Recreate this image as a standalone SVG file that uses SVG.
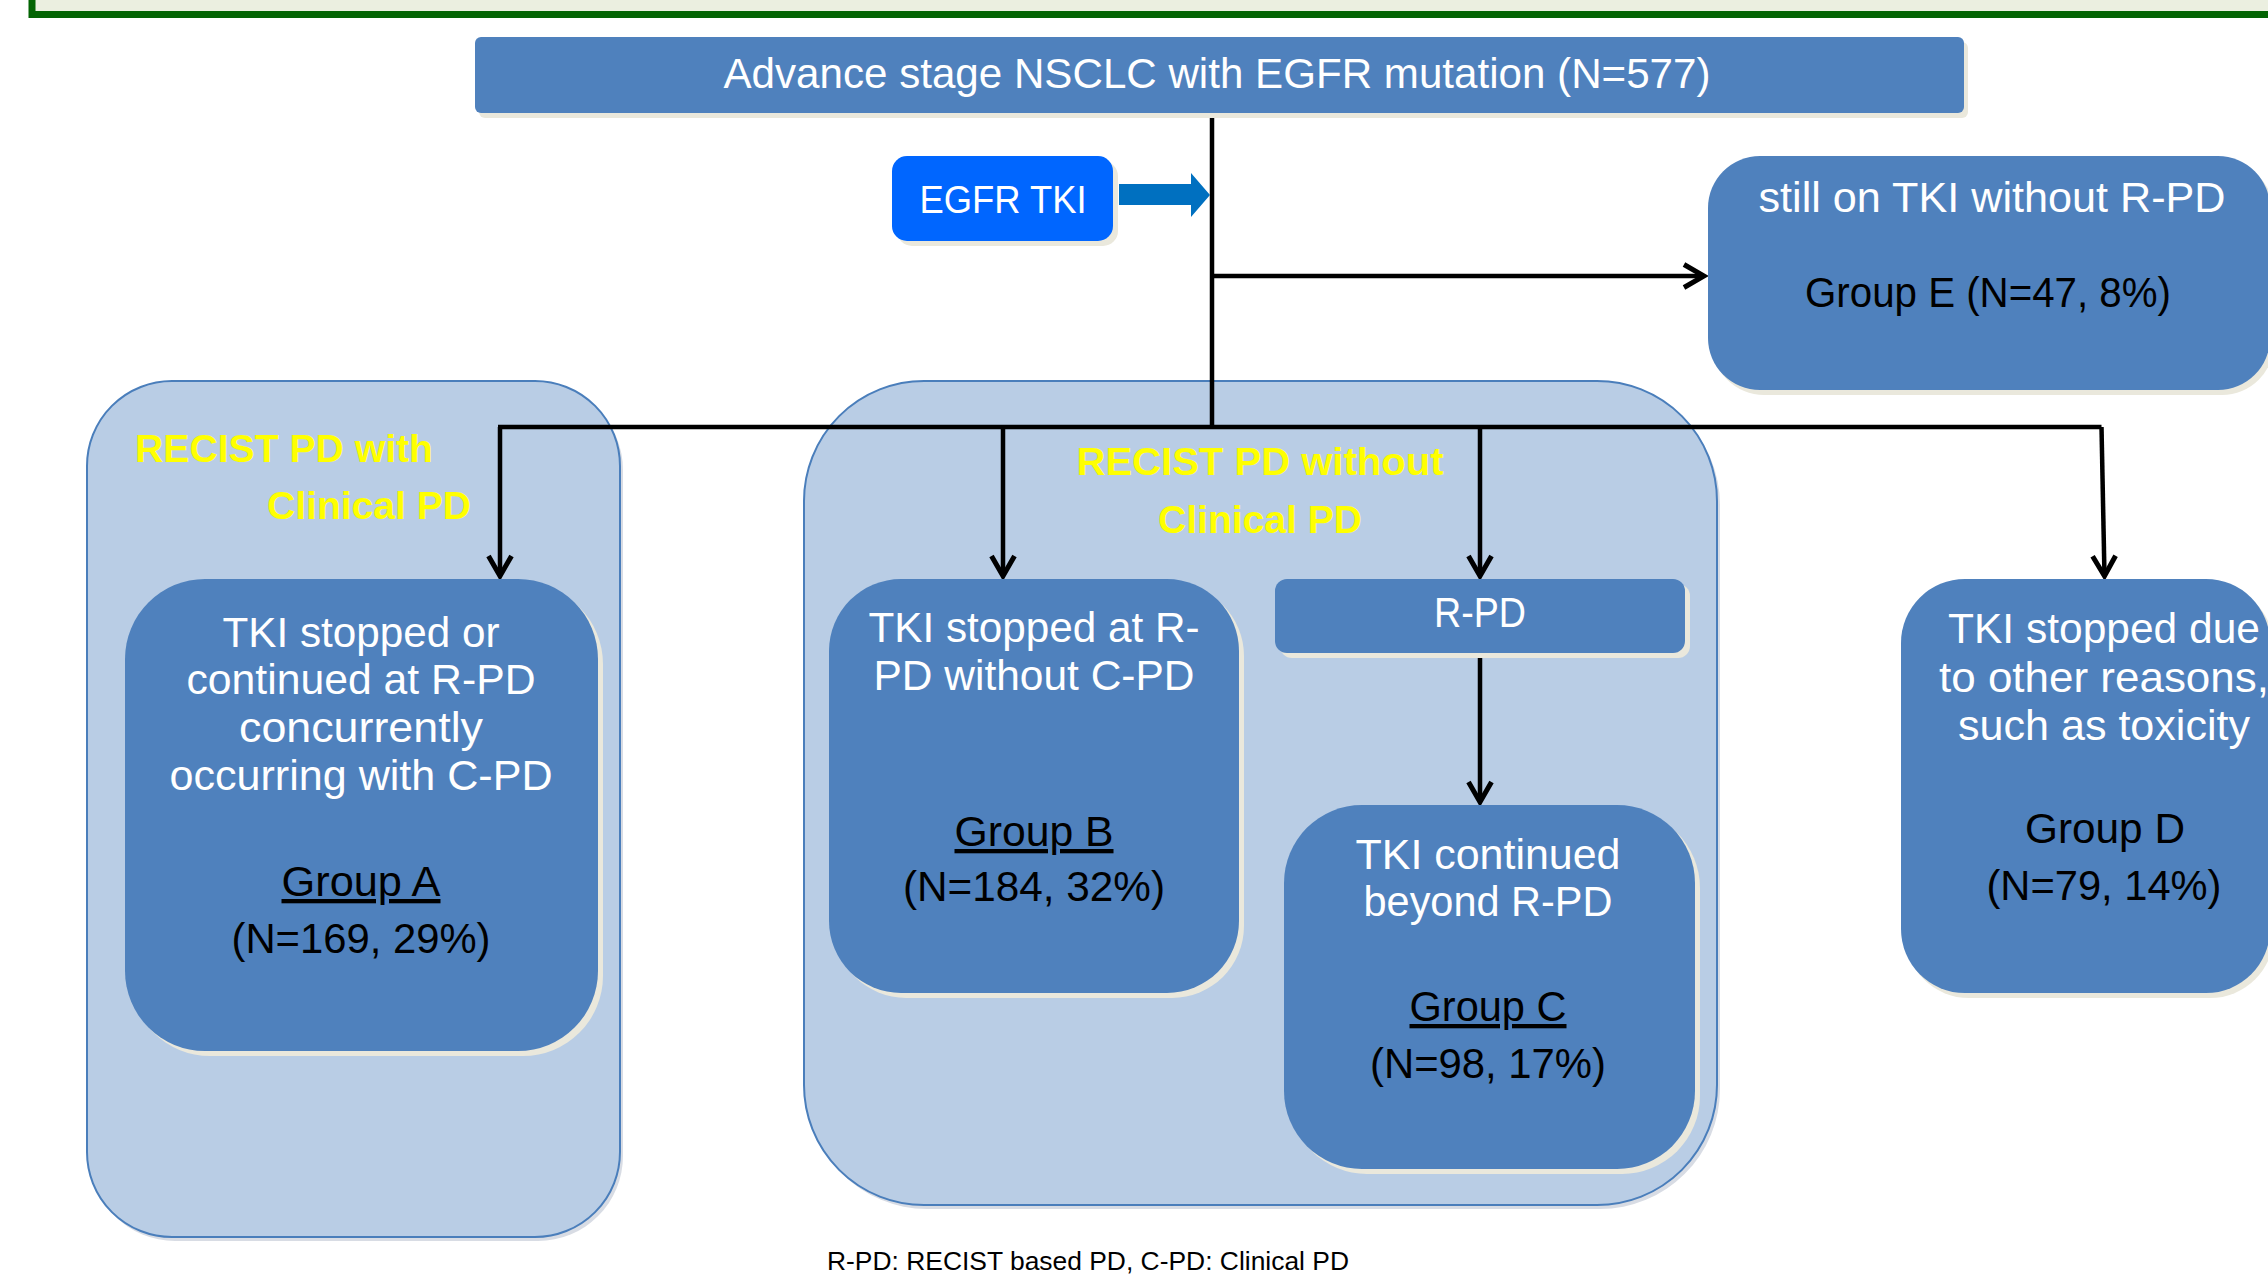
<svg xmlns="http://www.w3.org/2000/svg" width="2268" height="1277" viewBox="0 0 2268 1277">
<style>
.node{fill:#4F81BD}
.sh{fill:#EAE8DC}
.csh{fill:#D8DCE4}
.cont{fill:#B9CDE5;stroke:#4A7EBB;stroke-width:2}
.t{font-family:"Liberation Sans",Arial,sans-serif;font-size:43px;fill:#FFFFFF;text-anchor:middle}
.k{fill:#000000}
.u{text-decoration:underline}
.y{font-family:"Liberation Sans",Arial,sans-serif;font-weight:bold;font-size:39px;fill:#FFFF00}
.conn{stroke:#000000;stroke-width:4.5;fill:none}
</style>
<defs>
<marker id="ah" markerUnits="userSpaceOnUse" viewBox="-26 -16 30 32" markerWidth="30" markerHeight="32" refX="0" refY="0" orient="auto">
<path d="M-20,-11.5 L0,0 L-20,11.5" fill="none" stroke="#000000" stroke-width="5"/>
</marker>
</defs>
<rect x="0" y="0" width="2268" height="1277" fill="#FFFFFF"/>
<g id="frame">
<rect x="32" y="-20" width="2260" height="34.5" fill="#EBEFE0" stroke="#036403" stroke-width="7"/>
</g>

<g id="container-with-clinical">
<rect class="csh" x="90" y="385" width="533" height="856" rx="85"/>
<rect class="cont" x="87" y="381" width="533" height="856" rx="85"/>
<text class="y" x="135" y="462" textLength="298" lengthAdjust="spacingAndGlyphs">RECIST PD with</text>
<text class="y" x="267" y="519" textLength="204" lengthAdjust="spacingAndGlyphs">Clinical PD</text>
</g>

<g id="container-without-clinical">
<rect class="csh" x="807" y="385" width="913" height="824" rx="120"/>
<rect class="cont" x="804" y="381" width="913" height="824" rx="120"/>
</g>

<g id="connectors">
<path class="conn" d="M1212,113 V427"/>
<path class="conn" d="M498,427 H2101.5"/>
<path class="conn" d="M500,427 V576" marker-end="url(#ah)"/>
<path class="conn" d="M1003,427 V576" marker-end="url(#ah)"/>
<path class="conn" d="M1480,427 V576" marker-end="url(#ah)"/>
<path class="conn" d="M2101.5,427 L2104.5,576" marker-end="url(#ah)"/>
<path class="conn" d="M1212,276 H1704" marker-end="url(#ah)"/>
<path class="conn" d="M1480,655 V802" marker-end="url(#ah)"/>
<polygon points="1119,184 1191,184 1191,173 1210,195 1191,217 1191,205 1119,205" fill="#0070C0"/>
</g>

<g id="container-without-clinical-label">
<text class="y" x="1260" y="475" text-anchor="middle" textLength="367" lengthAdjust="spacingAndGlyphs">RECIST PD without</text>
<text class="y" x="1260" y="533" text-anchor="middle" textLength="204" lengthAdjust="spacingAndGlyphs">Clinical PD</text>
</g>

<g id="node-top">
<rect class="sh" x="479" y="42" width="1489" height="76" rx="6"/>
<rect class="node" x="475" y="37" width="1489" height="76" rx="6"/>
<text class="t" x="1217" y="88" style="font-size:42px" textLength="987" lengthAdjust="spacingAndGlyphs">Advance stage NSCLC with EGFR mutation (N=577)</text>
</g>

<g id="node-egfr-tki">
<rect class="sh" x="897" y="161" width="221" height="85" rx="15"/>
<rect x="892" y="156" width="221" height="85" rx="15" fill="#0066FF"/>
<text class="t" x="1003" y="213" style="font-size:39px" textLength="167" lengthAdjust="spacingAndGlyphs">EGFR TKI</text>
</g>

<g id="node-group-e">
<rect class="sh" x="1712" y="161" width="562" height="234" rx="52"/>
<rect class="node" x="1708" y="156" width="562" height="234" rx="52"/>
<text class="t" x="1992" y="212" textLength="467" lengthAdjust="spacingAndGlyphs">still on TKI without R-PD</text>
<text class="t k" x="1988" y="307" textLength="366" lengthAdjust="spacingAndGlyphs">Group E (N=47, 8%)</text>
</g>

<g id="node-group-a">
<rect class="sh" x="130" y="584" width="473" height="472" rx="80"/>
<rect class="node" x="125" y="579" width="473" height="472" rx="80"/>
<text class="t" x="361" y="647" textLength="277" lengthAdjust="spacingAndGlyphs">TKI stopped or</text>
<text class="t" x="361" y="694" textLength="349" lengthAdjust="spacingAndGlyphs">continued at R-PD</text>
<text class="t" x="361" y="742" textLength="244" lengthAdjust="spacingAndGlyphs">concurrently</text>
<text class="t" x="361" y="790" textLength="383" lengthAdjust="spacingAndGlyphs">occurring with C-PD</text>
<text class="t k u" x="361" y="896" textLength="159" lengthAdjust="spacingAndGlyphs">Group A</text>
<text class="t k" x="361" y="953" textLength="259" lengthAdjust="spacingAndGlyphs">(N=169, 29%)</text>
</g>

<g id="node-group-b">
<rect class="sh" x="834" y="584" width="410" height="414" rx="72"/>
<rect class="node" x="829" y="579" width="410" height="414" rx="72"/>
<text class="t" x="1034" y="642" textLength="331" lengthAdjust="spacingAndGlyphs">TKI stopped at R-</text>
<text class="t" x="1034" y="690" textLength="321" lengthAdjust="spacingAndGlyphs">PD without C-PD</text>
<text class="t k u" x="1034" y="846" textLength="159" lengthAdjust="spacingAndGlyphs">Group B</text>
<text class="t k" x="1034" y="901" textLength="262" lengthAdjust="spacingAndGlyphs">(N=184, 32%)</text>
</g>

<g id="node-rpd">
<rect class="sh" x="1280" y="584" width="410" height="74" rx="12"/>
<rect class="node" x="1275" y="579" width="410" height="74" rx="12"/>
<text class="t" x="1480" y="627" textLength="92" lengthAdjust="spacingAndGlyphs">R-PD</text>
</g>

<g id="node-group-c">
<rect class="sh" x="1289" y="810" width="411" height="364" rx="78"/>
<rect class="node" x="1284" y="805" width="411" height="364" rx="78"/>
<text class="t" x="1488" y="869" textLength="265" lengthAdjust="spacingAndGlyphs">TKI continued</text>
<text class="t" x="1488" y="916" textLength="249" lengthAdjust="spacingAndGlyphs">beyond R-PD</text>
<text class="t k u" x="1488" y="1021" textLength="157" lengthAdjust="spacingAndGlyphs">Group C</text>
<text class="t k" x="1488" y="1078" textLength="236" lengthAdjust="spacingAndGlyphs">(N=98, 17%)</text>
</g>

<g id="node-group-d">
<rect class="sh" x="1905" y="584" width="369" height="414" rx="64"/>
<rect class="node" x="1901" y="579" width="369" height="414" rx="64"/>
<text class="t" x="2104" y="643" textLength="312" lengthAdjust="spacingAndGlyphs">TKI stopped due</text>
<text class="t" x="2104" y="692" textLength="330" lengthAdjust="spacingAndGlyphs">to other reasons,</text>
<text class="t" x="2104" y="740" textLength="292" lengthAdjust="spacingAndGlyphs">such as toxicity</text>
<text class="t k" x="2105" y="843" textLength="160" lengthAdjust="spacingAndGlyphs">Group D</text>
<text class="t k" x="2104" y="900" textLength="235" lengthAdjust="spacingAndGlyphs">(N=79, 14%)</text>
</g>

<g id="footnote">
<text class="t k" x="1088" y="1270" style="font-size:26px" textLength="522" lengthAdjust="spacingAndGlyphs">R-PD: RECIST based PD, C-PD: Clinical PD</text>
</g>
</svg>
